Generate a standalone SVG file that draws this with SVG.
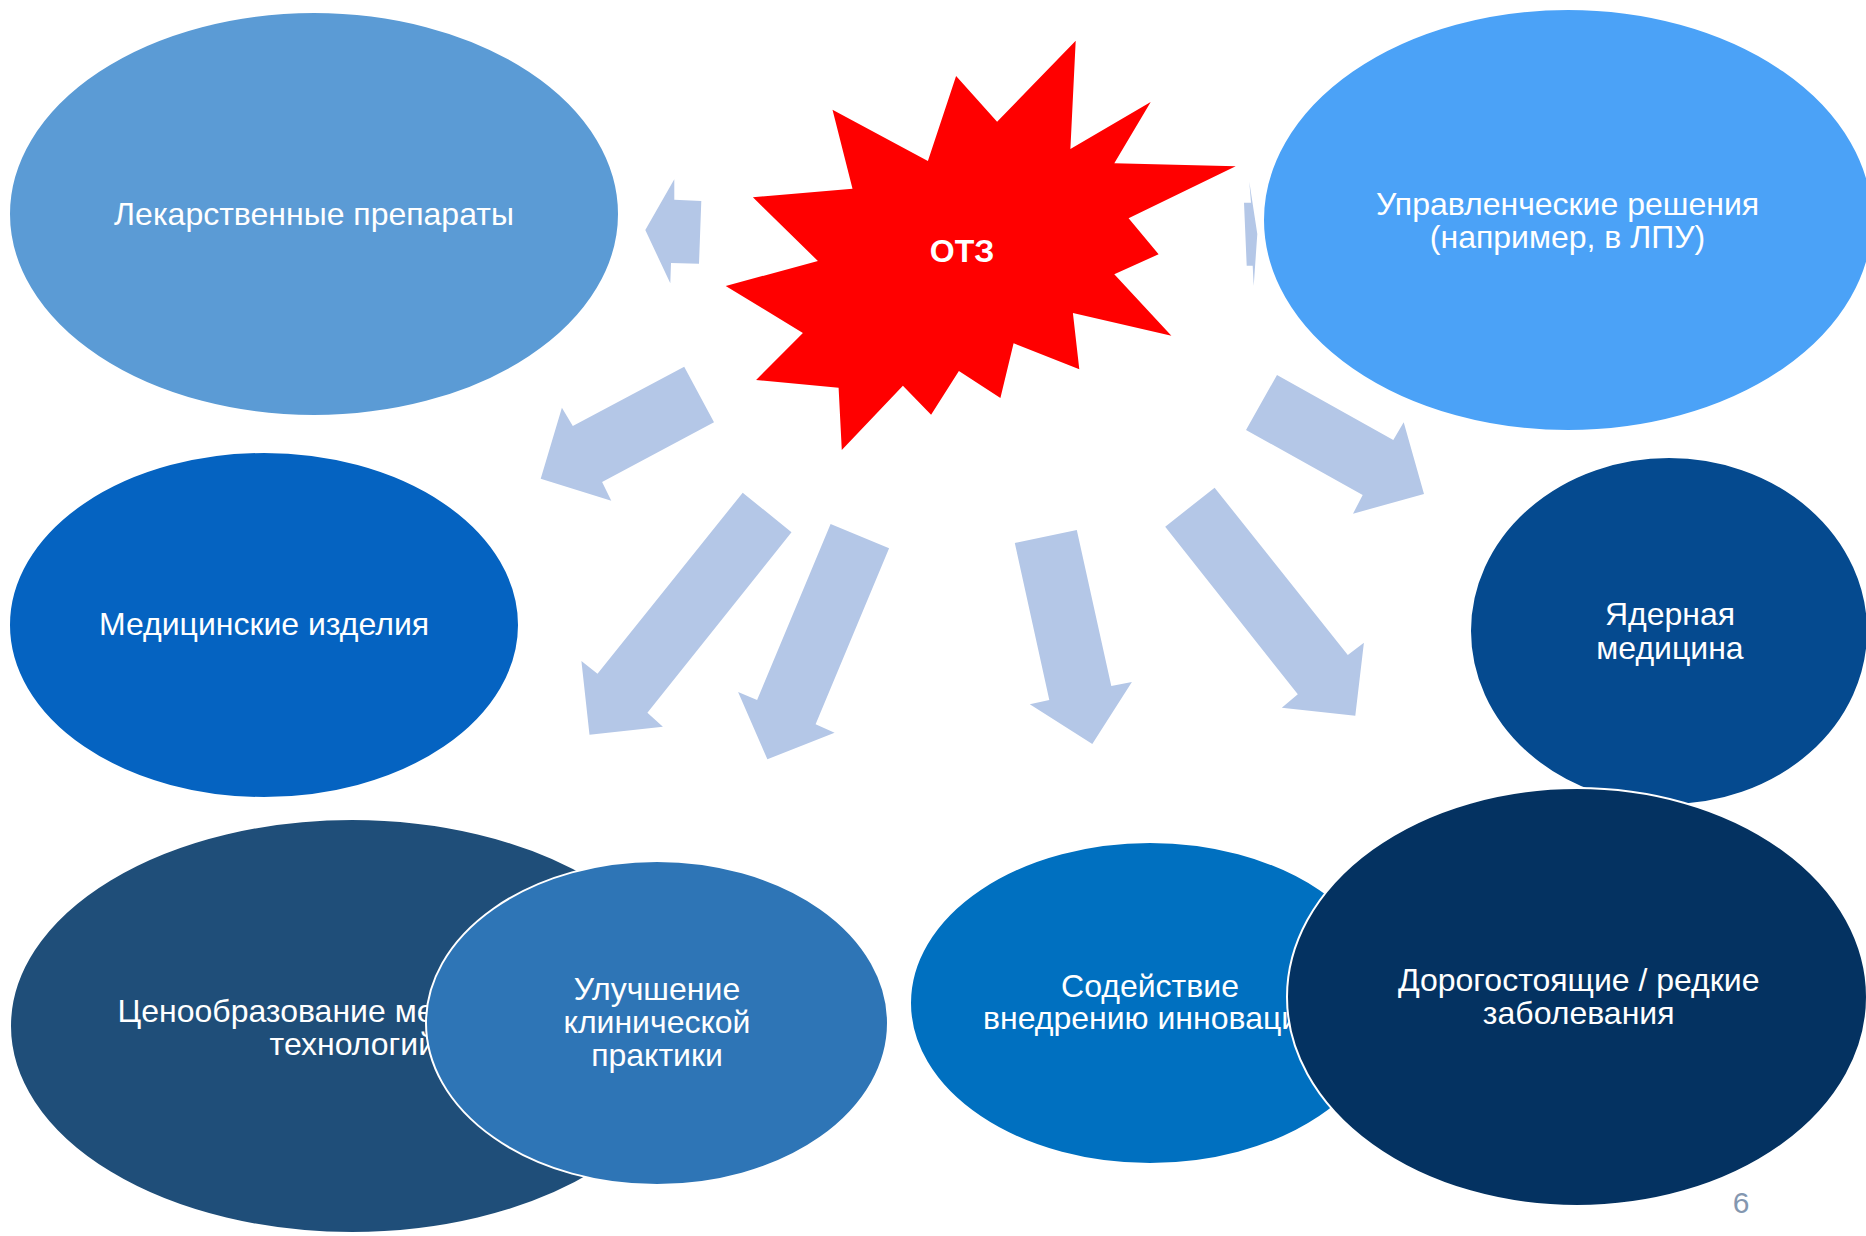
<svg xmlns="http://www.w3.org/2000/svg" width="1866" height="1236" viewBox="0 0 1866 1236">
<style>
.lbl{font-family:"Liberation Sans",Arial,sans-serif;font-size:32px;fill:#FFFFFF;text-anchor:middle}
.node{stroke:#FFFFFF;stroke-width:2}
.arr{fill:#B4C7E7}
</style>
<rect width="1866" height="1236" fill="#FFFFFF"/>
<g id="n-lek">
<ellipse class="node" cx="314" cy="214" rx="305" ry="202" fill="#5B9BD5"/>
<text class="lbl" x="314" y="225">Лекарственные препараты</text>
</g>
<g id="n-upr">
<ellipse class="node" cx="1568" cy="220" rx="305" ry="211" fill="#4BA2F7"/>
<text class="lbl" x="1567.5" y="214.5">Управленческие решения</text>
<text class="lbl" x="1567.5" y="247.5">(например, в ЛПУ)</text>
</g>
<g id="n-med">
<ellipse class="node" cx="264" cy="625" rx="255" ry="173" fill="#0563C1"/>
<text class="lbl" x="264" y="635">Медицинские изделия</text>
</g>
<g id="n-yad">
<ellipse class="node" cx="1669" cy="631" rx="199" ry="174" fill="#054A8F"/>
<text class="lbl" x="1670" y="625">Ядерная</text>
<text class="lbl" x="1670" y="658.5">медицина</text>
</g>
<g id="n-cen">
<ellipse class="node" cx="352" cy="1026" rx="342" ry="207" fill="#1F4E79"/>
<text class="lbl" x="352.8" y="1021.7">Ценообразование медицинских</text>
<text class="lbl" x="352.8" y="1055">технологий</text>
</g>
<g id="n-ulu">
<ellipse class="node" cx="657" cy="1023" rx="231" ry="162" fill="#2E75B6"/>
<text class="lbl" x="657" y="1000">Улучшение</text>
<text class="lbl" x="657" y="1033">клинической</text>
<text class="lbl" x="657" y="1066">практики</text>
</g>
<g id="n-sod">
<ellipse class="node" cx="1150" cy="1003" rx="240" ry="161" fill="#0070C0"/>
<text class="lbl" x="1150" y="996.7">Содействие</text>
<text class="lbl" x="1150" y="1029">внедрению инноваций</text>
</g>
<g id="n-dor">
<ellipse class="node" cx="1577" cy="997" rx="290" ry="209" fill="#043261"/>
<text class="lbl" x="1578.7" y="991">Дорогостоящие / редкие</text>
<text class="lbl" x="1578.7" y="1024">заболевания</text>
</g>
<g id="connectors">
<polygon class="arr" points="674.3,179.3 674.3,199.7 701.3,201 699,263.7 671,263 670.3,283.3 645.3,230"/>
<polygon class="arr" points="1249.3,181.7 1251,202.7 1244,202.7 1246.7,265.7 1252.7,265.7 1253.7,286 1257.3,234"/>
<polygon class="arr" points="684.2,366.7 714,422.3 602.1,482 611.3,500.7 540.7,478.7 561.9,407.7 572.8,426"/>
<polygon class="arr" points="742.7,492.7 791.5,532.3 647.4,712.7 662.9,726.7 589.5,734.7 581.4,661 597.5,673.7"/>
<polygon class="arr" points="830.6,524 889.1,548.3 815.6,724.3 834.6,732.7 767.4,759.3 738.1,692 757.1,700"/>
<polygon class="arr" points="1014.8,543 1076.8,530 1111.3,686 1131.9,682 1092.3,744 1029.8,704.3 1049.3,700"/>
<polygon class="arr" points="1214.6,487.7 1165.2,526.7 1297.8,694.3 1281.8,707.7 1355.3,715.7 1363.9,642.7 1347.8,655"/>
<polygon class="arr" points="1277,375 1393.3,440 1403.7,422.3 1424,494 1353,513.7 1362.7,495 1246,430"/>
</g>
<g id="n-otz">
<polygon fill="#FF0000" points="1075.7,40.7 1070.4,149 1150.7,102 1114.3,163.3 1235.7,166.3 1128.6,218.3 1158.6,254.3 1114.3,274.3 1171.4,335.7 1072.9,313 1079.3,369.3 1013.6,343.3 1000.4,398 958.9,371 931.1,414.7 902.9,385.7 841.8,450 838.6,387.7 756.1,380 802.9,333 725.7,286 817.9,261 752.9,197.3 852.5,188.7 832.5,109.7 927.9,161 956.1,76 997.1,121.7"/>
<text x="962" y="261.5" font-family="'Liberation Sans',Arial,sans-serif" font-size="32" font-weight="bold" fill="#FFFFFF" text-anchor="middle">ОТЗ</text>
</g>
<text x="1741" y="1213" font-family="'Liberation Sans',Arial,sans-serif" font-size="30" fill="#8497B0" text-anchor="middle">6</text>
</svg>
